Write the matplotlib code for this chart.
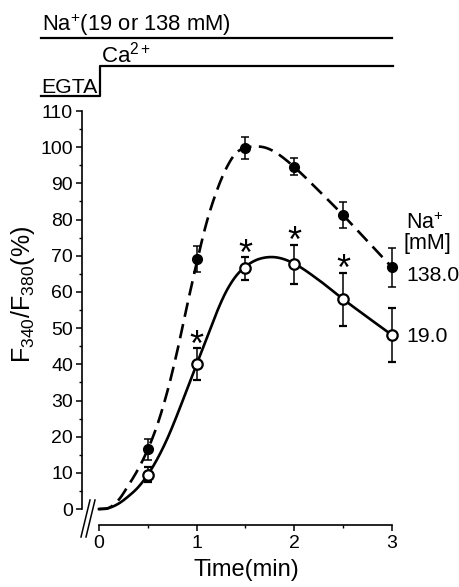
import numpy as np
import matplotlib
matplotlib.use("Agg")
import matplotlib.pyplot as plt
from matplotlib.lines import Line2D
from matplotlib.ticker import MultipleLocator

plt.rcParams['font.family'] = ['Liberation Sans', 'DejaVu Sans']
plt.rcParams['mathtext.fontset'] = 'custom'
plt.rcParams['mathtext.rm'] = 'Liberation Sans'
plt.rcParams['mathtext.it'] = 'Liberation Sans'
plt.rcParams['mathtext.default'] = 'regular'

# ---- data ----
time_pts = [0.5, 1.0, 1.5, 2.0, 2.5, 3.0]
na138_mean = [16.5, 69.0, 99.7, 94.6, 81.2, 66.8]
na138_err = [3.0, 3.6, 3.0, 2.3, 3.6, 5.3]
na19_mean = [9.5, 40.0, 66.5, 67.7, 58.0, 48.1]
na19_err = [2.0, 4.4, 3.2, 5.4, 7.3, 7.4]
signif_times = [1.0, 1.5, 2.0, 2.5]

# fitted curves
fit_t = [0, 0.1, 0.2, 0.3, 0.4, 0.5, 0.6, 0.7, 0.8, 0.9, 1.0, 1.1, 1.2, 1.3,
         1.4, 1.5, 1.6, 1.7, 1.8, 1.9, 2.0, 2.25, 2.5, 2.75, 3.0]
fit138 = [0, 0.3, 2.5, 6.5, 11.0, 16.5, 23.5, 32.5, 43.5, 56.0, 68.0, 79.0,
          87.5, 94.0, 98.3, 99.8, 100.2, 99.9, 98.7, 96.8, 94.5, 88.0, 81.2,
          74.0, 66.8]
fit19 = [0, 0.3, 1.5, 3.5, 6.0, 9.5, 14.0, 19.5, 26.0, 33.0, 40.0, 47.0,
         54.0, 60.0, 64.3, 67.0, 68.7, 69.5, 69.6, 69.0, 67.8, 63.3, 58.0,
         53.0, 48.1]

xticks = [0, 1, 2, 3]
yticks = list(range(0, 111, 10))
series_labels = ['138.0', '19.0']


def smooth(x, y, n=20):
    x = np.asarray(x, float); y = np.asarray(y, float)
    m = np.gradient(y, x)
    xs, ys = [], []
    for i in range(len(x) - 1):
        h = x[i + 1] - x[i]
        s = np.linspace(0, 1, n, endpoint=False)
        h00 = 2*s**3 - 3*s**2 + 1; h10 = s**3 - 2*s**2 + s
        h01 = -2*s**3 + 3*s**2; h11 = s**3 - s**2
        xs.append(x[i] + s*h)
        ys.append(h00*y[i] + h10*h*m[i] + h01*y[i+1] + h11*h*m[i+1])
    xs.append([x[-1]]); ys.append([y[-1]])
    return np.concatenate(xs), np.concatenate(ys)


W, H = 460, 587
fig = plt.figure(figsize=(W/100, H/100), dpi=100)
ax = fig.add_axes([82/W, 62/H, 329.5/W, 414/H])
ax.set_xlim(-0.174, 3.2)
ax.set_ylim(-4.4, 110)

lw_curve = 1.9
sx, sy = smooth(fit_t, fit138)
ax.plot(sx, sy, color='black', lw=lw_curve, dashes=(5.5, 2.8), clip_on=False)
sx, sy = smooth(fit_t, fit19)
ax.plot(sx, sy, color='black', lw=lw_curve, clip_on=False)

ax.errorbar(time_pts, na138_mean, yerr=na138_err, fmt='o', color='black',
            ms=7, capsize=3, elinewidth=1.1, capthick=1.1, clip_on=False, zorder=4)
ax.errorbar(time_pts, na19_mean, yerr=na19_err, fmt='o', color='black',
            mfc='white', mec='black', mew=1.6, ms=7.5, capsize=3,
            elinewidth=1.1, capthick=1.1, clip_on=False, zorder=4)

for t in signif_times:
    i = time_pts.index(t)
    top = na19_mean[i] + na19_err[i]
    ax.annotate('*', (t, top), xytext=(0, -5.5), textcoords='offset points',
                ha='center', va='baseline', fontsize=26)

# axes styling
for s in ['top', 'right']:
    ax.spines[s].set_visible(False)
ax.spines['left'].set_bounds(0, 110)
ax.spines['bottom'].set_bounds(0, 3)
ax.spines['left'].set_linewidth(1.2)
ax.spines['bottom'].set_linewidth(1.2)
ax.set_xticks(xticks)
ax.set_yticks(yticks)
ax.xaxis.set_minor_locator(MultipleLocator(0.5))
ax.yaxis.set_minor_locator(MultipleLocator(5))
ax.tick_params(axis='both', which='major', labelsize=14, length=4.5, width=1.1, direction='out')
ax.tick_params(axis='both', which='minor', length=2.5, width=1.0, direction='out')
ax.tick_params(axis='y', pad=2)
ax.tick_params(axis='x', pad=3)

ax.set_ylabel('F$_{340}$/F$_{380}$(%)', fontsize=18)
ax.yaxis.set_label_coords(-0.137, 0.556)

def fx(x):
    return x / W

def fy(y):
    return 1 - y / H

fig.text(fx(246), fy(570), 'Time(min)', ha='center', va='center', fontsize=17)

# break marks
for dx in (0, 5):
    fig.add_artist(Line2D([fx(81 + dx), fx(90 + dx)], [fy(537), fy(500)],
                          color='black', lw=1.1))

# top protocol bars
fig.add_artist(Line2D([fx(41), fx(392)], [fy(37.7), fy(37.7)], color='black', lw=1.6))
fig.add_artist(Line2D([fx(41), fx(100), fx(100), fx(393)],
                      [fy(96), fy(96), fy(66), fy(66)], color='black', lw=1.6))
fig.text(fx(42), fy(31), 'Na$^{+}$(19 or 138 mM)', ha='left', va='baseline', fontsize=15.8)
fig.text(fx(101), fy(62), 'Ca$^{2+}$', ha='left', va='baseline', fontsize=16)
fig.text(fx(41), fy(93), 'EGTA', ha='left', va='baseline', fontsize=15.3)

# right labels
fig.text(fx(425), fy(229), 'Na$^{+}$', ha='center', va='baseline', fontsize=15.5)
fig.text(fx(427.5), fy(249), '[mM]', ha='center', va='baseline', fontsize=15.5)
fig.text(fx(406), fy(276), series_labels[0], ha='left', va='center', fontsize=15.3)
fig.text(fx(406), fy(336), series_labels[1], ha='left', va='center', fontsize=15.3)

fig.savefig('out.png', dpi=100)
